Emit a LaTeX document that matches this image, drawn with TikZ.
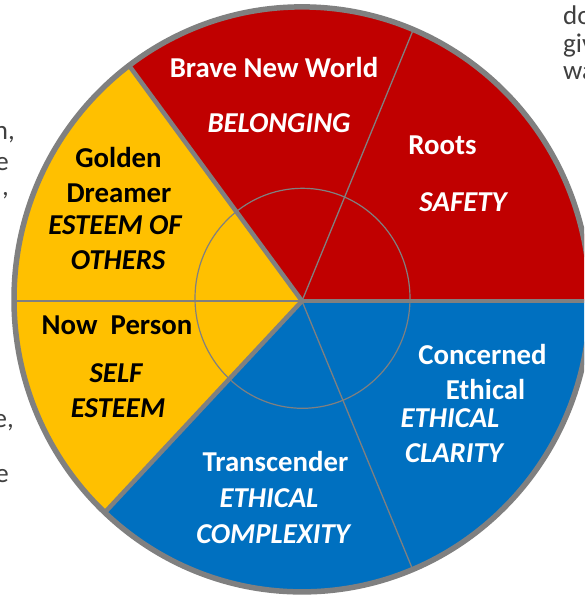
\documentclass[tikz,border=0pt]{standalone}
\usepackage{fontspec}
\setmainfont{Carlito}
\definecolor{wheelred}{HTML}{C00000}
\definecolor{wheelyellow}{HTML}{FFC000}
\definecolor{wheelblue}{HTML}{0070C0}
\definecolor{rim}{HTML}{808080}
\definecolor{bodytext}{HTML}{404040}
\begin{document}
\begin{tikzpicture}[x=1pt,y=1pt,
  lbl/.style={font=\bfseries\fontsize{28.8}{34}\selectfont, inner sep=0pt, anchor=base},
  lblit/.style={lbl, font=\bfseries\itshape\fontsize{28.8}{34}\selectfont},
  thickdiv/.style={draw=rim, line width=4.5pt},
  thindiv/.style={draw=rim, line width=1.3pt},
  frag/.style={font=\fontsize{27}{32}\selectfont, text=bodytext, inner sep=0pt}
]
\useasboundingbox (0,0) rectangle (584,600);
\fill[white] (0,0) rectangle (584,600);
\clip (0,0) rectangle (584,600);

% colour sectors, cut to the wheel
\begin{scope}
  \clip (302,300.6) ellipse [x radius=290, y radius=294.5];
  \begin{scope}[shift={(302,299)}]
    \fill[wheelred]    (0,0) -- (0:800) -- (63:800) -- (126.3:800) -- cycle;
    \fill[wheelyellow] (0,0) -- (126.3:800) -- (176.6:800) -- (227:800) -- cycle;
    \fill[wheelblue]   (0,0) -- (-133:800) -- (-66.5:800) -- (0:800) -- cycle;
    % dividers between the six segments
    \draw[thindiv] (0,0) -- (67.7:320);
    \draw[thindiv] (0,0) -- (-67.6:320);
    \draw[thindiv] (0,0) -- (180:320);
    \draw[thickdiv] (0,0) -- (126.3:320);
    \draw[thickdiv] (0,0) -- (0:320);
    \draw[thickdiv] (0,0) -- (-133:320);
  \end{scope}
\end{scope}

% inner ring and outer rim
\draw[rim, line width=1.2pt] (302.5,301.7) ellipse [x radius=107.5, y radius=110];
\draw[rim, line width=5.5pt] (302,300.6) ellipse [x radius=288, y radius=292.5];

% segment labels
\node[lbl, text=white] (bnw)   at (274,522)   {Brave New World};
\node[lblit, text=white] (bel) at (279,467)   {BELONGING};
\node[lbl, text=white] (roots) at (442.5,445) {Roots};
\node[lblit, text=white] (saf) at (463,388)   {SAFETY};

\node[lbl] (gold)  at (118.5,432) {Golden};
\node[lbl] (drm)   at (119,397)   {Dreamer};
\node[lblit] (eso) at (115,365)   {ESTEEM OF};
\node[lblit] (oth) at (118,330)   {OTHERS};

\node[lbl] (now)    at (117,265) {Now\ \ Person};
\node[lblit] (self) at (116,217) {SELF};
\node[lblit] (est)  at (118,182) {ESTEEM};

\node[lbl, text=white] (conc)  at (482.5,235) {Concerned};
\node[lbl, text=white] (eth)   at (485.5,200) {Ethical};
\node[lblit, text=white] (ecl) at (450,172)   {ETHICAL};
\node[lblit, text=white] (cla) at (454,137)   {CLARITY};

\node[lbl, text=white] (trans) at (275.5,128) {Transcender};
\node[lblit, text=white] (ecx) at (269,92)    {ETHICAL};
\node[lblit, text=white] (cpx) at (273,56)    {COMPLEXITY};

% running text at the page edges
\node[frag, anchor=base east] (l1) at (15,460) {n,};
\node[frag, anchor=base east] (l2) at (9,429)  {e};
\node[frag, anchor=base east] (l3) at (9,404)  {,};
\node[frag, anchor=base east] (l4) at (14,172) {e,};
\node[frag, anchor=base east] (l5) at (9,117)  {e};

\node[frag, anchor=base west] (r1) at (563,575) {do};
\node[frag, anchor=base west] (r2) at (563,547) {giv};
\node[frag, anchor=base west] (r3) at (563,520) {wa};
\end{tikzpicture}
\end{document}
